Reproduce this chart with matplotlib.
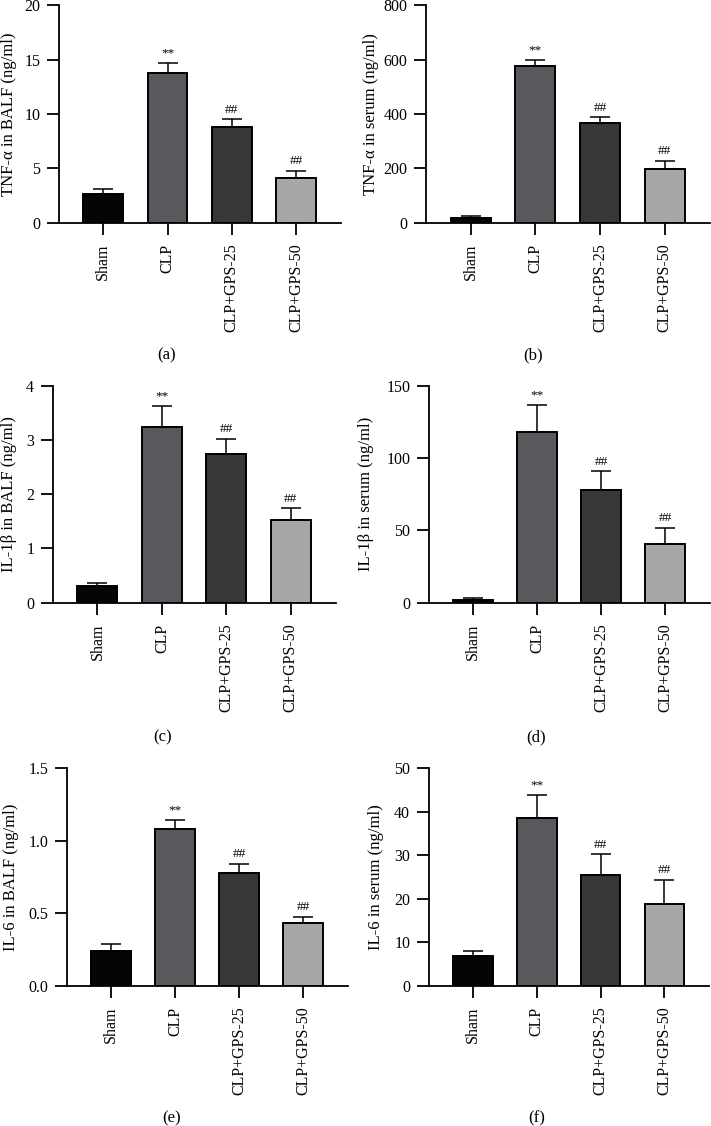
import matplotlib
matplotlib.use("Agg")
import matplotlib.pyplot as plt

plt.rcParams['font.family'] = ['Liberation Serif', 'DejaVu Serif']

groups = ["Sham", "CLP", "CLP+GPS-25", "CLP+GPS-50"]
colors = ["#050505", "#59595d", "#383838", "#a7a7a7"]
marks = ["", "**", "##", "##"]

tnf_balf = [2.6, 13.8, 8.8, 4.15]
tnf_balf_err = [0.5, 0.9, 0.7, 0.65]
tnf_serum = [18, 575, 367, 199]
tnf_serum_err = [8, 25, 21, 29]
il1b_balf = [0.3, 3.23, 2.74, 1.52]
il1b_balf_err = [0.07, 0.4, 0.28, 0.22]
il1b_serum = [2.0, 118, 78, 40.8]
il1b_serum_err = [1.2, 19, 13, 11]
il6_balf = [0.24, 1.078, 0.778, 0.432]
il6_balf_err = [0.05, 0.068, 0.064, 0.044]
il6_serum = [6.9, 38.6, 25.5, 18.9]
il6_serum_err = [1.15, 5.3, 4.7, 5.5]

panels = [
    dict(vals=tnf_balf, err=tnf_balf_err, ymax=20, step=5, fmt="{:.0f}",
         ylabel="TNF-α in BALF (ng/ml)", box=(59, 341, 5.3, 222.7), labx=9.5,
         tag="(a)", tagpos=(167, 355)),
    dict(vals=tnf_serum, err=tnf_serum_err, ymax=800, step=200, fmt="{:.0f}",
         ylabel="TNF-α in serum (ng/ml)", box=(426, 710, 5.3, 222.7), labx=371,
         tag="(b)", tagpos=(533, 355)),
    dict(vals=il1b_balf, err=il1b_balf_err, ymax=4, step=1, fmt="{:.0f}",
         ylabel="IL-1β in BALF (ng/ml)", box=(53, 336, 385.7, 602.7), labx=9.5,
         tag="(c)", tagpos=(163, 737)),
    dict(vals=il1b_serum, err=il1b_serum_err, ymax=150, step=50, fmt="{:.0f}",
         ylabel="IL-1β in serum (ng/ml)", box=(429, 710, 385.7, 602.7), labx=366,
         tag="(d)", tagpos=(536, 737)),
    dict(vals=il6_balf, err=il6_balf_err, ymax=1.5, step=0.5, fmt="{:.1f}",
         ylabel="IL-6 in BALF (ng/ml)", box=(67, 348, 768.3, 985.7), labx=11,
         tag="(e)", tagpos=(172, 1118)),
    dict(vals=il6_serum, err=il6_serum_err, ymax=50, step=10, fmt="{:.0f}",
         ylabel="IL-6 in serum (ng/ml)", box=(429, 709, 768.3, 985.7), labx=376,
         tag="(f)", tagpos=(537, 1118)),
]

W, H = 711, 1126
fig = plt.figure(figsize=(W / 100, H / 100), dpi=100)

FS = 11.5
for p in panels:
    x0, x1, yt, yb = p["box"]
    ax = fig.add_axes([x0 / W, 1 - yb / H, (x1 - x0) / W, (yb - yt) / H])
    xs = list(range(len(groups)))
    ax.bar(xs, p["vals"], width=0.62, color=colors, edgecolor="black",
           linewidth=1.4, zorder=2)
    ax.errorbar(xs, p["vals"], yerr=[[0] * 4, p["err"]], fmt="none",
                ecolor="black", elinewidth=1.1, capsize=7, capthick=1.1, zorder=1)
    for x, v, e, m in zip(xs, p["vals"], p["err"], marks):
        if m:
            ax.annotate(m, (x, v + e), xytext=(0, 2.5), textcoords="offset points",
                        ha="center", va="bottom", fontsize=9.5)
    ax.set_xlim(-0.69, 3.7)
    ax.set_ylim(0, p["ymax"])
    n = int(round(p["ymax"] / p["step"]))
    ticks = [i * p["step"] for i in range(n + 1)]
    ax.set_yticks(ticks)
    ax.set_yticklabels([p["fmt"].format(t) for t in ticks])
    ax.set_xticks(xs)
    ax.set_xticklabels(groups, rotation=90)
    for s in ["top", "right"]:
        ax.spines[s].set_visible(False)
    for s in ["left", "bottom"]:
        ax.spines[s].set_linewidth(1.3)
    ax.tick_params(axis="both", labelsize=FS, width=1.3, color="black")
    ax.tick_params(axis="x", length=8.5, pad=6.5)
    ax.tick_params(axis="y", length=9, pad=4.5)
    fig.text(p["labx"] / W, 1 - ((yt + yb) / 2) / H, p["ylabel"], rotation=90,
             ha="center", va="center", fontsize=FS + 0.5)
    fig.text(p["tagpos"][0] / W, 1 - p["tagpos"][1] / H, p["tag"],
             ha="center", va="center", fontsize=12)

fig.savefig("out.png", dpi=100)
